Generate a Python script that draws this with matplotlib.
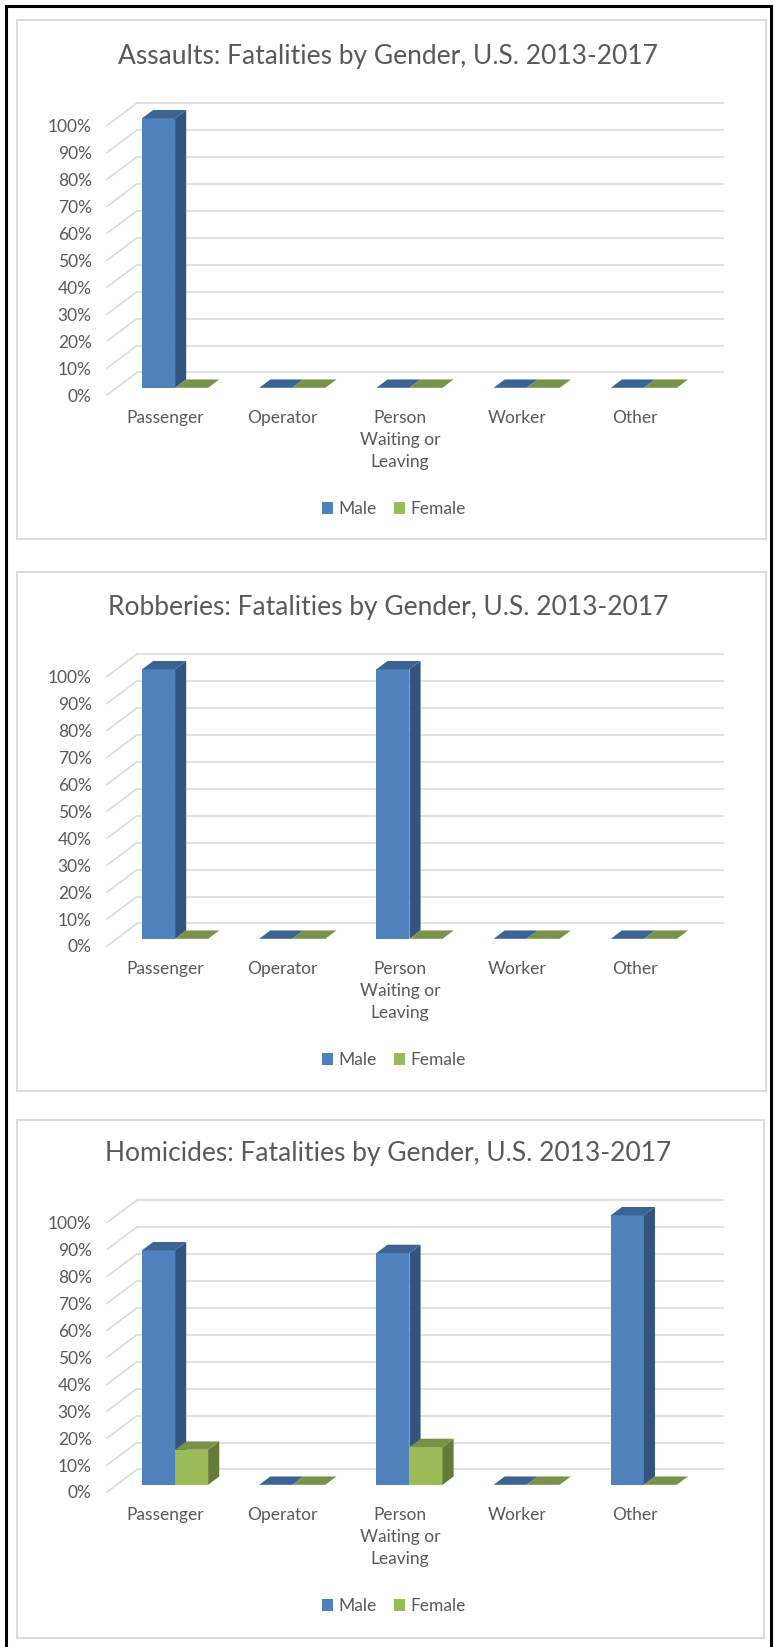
import matplotlib
matplotlib.use('Agg')
import matplotlib.pyplot as plt
from matplotlib.patches import Polygon, Rectangle, Patch
from matplotlib.lines import Line2D

plt.rcParams['font.family'] = ['Lato', 'DejaVu Sans']

# data
categories = ['Passenger', 'Operator', 'Person\nWaiting or\nLeaving', 'Worker', 'Other']
titles = ['Assaults: Fatalities by Gender, U.S. 2013-2017',
          'Robberies: Fatalities by Gender, U.S. 2013-2017',
          'Homicides: Fatalities by Gender, U.S. 2013-2017']
assault_male = [100, 0, 0, 0, 0]
assault_female = [0, 0, 0, 0, 0]
robbery_male = [100, 0, 100, 0, 0]
robbery_female = [0, 0, 0, 0, 0]
homicide_male = [87, 0, 86, 0, 100]
homicide_female = [13, 0, 14, 0, 0]
yticks = list(range(0, 101, 10))

charts = [(assault_male, assault_female),
          (robbery_male, robbery_female),
          (homicide_male, homicide_female)]

W, H = 775, 1647
GRAY = '#595959'
GRID = '#D9D9D9'
# face colours: front, side, top
BLUE = ('#4F81BD', '#33547E', '#3B6394')
GREEN = ('#9BBB59', '#667A38', '#78924A')

# fake 3d depth in data units
DX = 0.256   # wall depth (categories)
DY = 8.36    # wall depth (percent)
ZF = 0.32    # bar front position in depth
ZD = 0.37    # bar depth
BW = 0.282   # bar width
BL = 0.217   # left margin inside category

chart_off = [0, 551, 1097]
panels = [(17, 20, 766, 539), (17, 572, 766, 1091), (17, 1120, 764, 1638)]

fig = plt.figure(figsize=(W / 100, H / 100), dpi=100)

# outer black frame
fig.add_artist(Rectangle((6 / W, -0.01), (771 - 6) / W, 1 - 6 / H + 0.01,
                         transform=fig.transFigure, fill=False, ec='black', lw=2.2))


def draw_bar(ax, x0, v, cols):
    b = ZF * DY
    x = x0 + ZF * DX
    bdx, bdy = ZD * DX, ZD * DY
    ax.bar(x, v, width=BW, bottom=b, align='edge', color=cols[0], lw=0, zorder=3)
    x1 = x + BW
    ax.add_patch(Polygon([(x1, b), (x1 + bdx, b + bdy), (x1 + bdx, b + v + bdy), (x1, b + v)],
                         closed=True, fc=cols[1], ec='none', zorder=3))
    ax.add_patch(Polygon([(x, b + v), (x1, b + v), (x1 + bdx, b + v + bdy), (x + bdx, b + v + bdy)],
                         closed=True, fc=cols[2], ec='none', zorder=3))


for k, (male, female) in enumerate(charts):
    off = chart_off[k]
    px0, py0, px1, py1 = panels[k]
    fig.add_artist(Rectangle((px0 / W, 1 - py1 / H), (px1 - px0) / W, (py1 - py0) / H,
                             transform=fig.transFigure, fill=False, ec=GRID, lw=1.3))

    ax = fig.add_axes([107 / W, 1 - (395 + off) / H, 616 / W, 292 / H])
    n = len(categories)
    ax.set_xlim(0, n + DX)
    ax.set_ylim(0, 100 + DY)
    ax.patch.set_visible(False)
    for s in ax.spines.values():
        s.set_visible(False)

    # walls gridlines
    for v in yticks:
        ax.add_line(Line2D([0, DX], [v, v + DY], color=GRID, lw=1.1, zorder=1, clip_on=False))
        ax.add_line(Line2D([DX, n + DX], [v + DY, v + DY], color=GRID, lw=1.1, zorder=1, clip_on=False))

    for i in range(n):
        draw_bar(ax, i + BL, male[i], BLUE)
        draw_bar(ax, i + BL + BW, female[i], GREEN)

    ax.set_yticks(yticks)
    ax.set_yticklabels([f'{v}%' for v in yticks])
    ax.set_xticks([i + 0.5 for i in range(n)])
    ax.set_xticklabels(categories, linespacing=1.45)
    ax.tick_params(axis='y', length=0, pad=11, labelsize=12.5, labelcolor=GRAY)
    ax.tick_params(axis='x', length=0, pad=11, labelsize=12.5, labelcolor=GRAY)

    fig.text(388 / W, 1 - (64 + off) / H, titles[k], ha='center', va='baseline',
             fontsize=19, color=GRAY)

    handles = [Patch(fc=BLUE[0], ec='none'), Patch(fc=GREEN[0], ec='none')]
    fig.legend(handles, ['Male', 'Female'], loc='center', ncol=2, frameon=False,
               bbox_to_anchor=(394 / W, 1 - (509 + off) / H), fontsize=12.5,
               handlelength=0.65, handleheight=0.65, handletextpad=0.3,
               columnspacing=1.0, labelcolor=GRAY, borderpad=0)

fig.savefig('out.png', dpi=100, facecolor='white')
